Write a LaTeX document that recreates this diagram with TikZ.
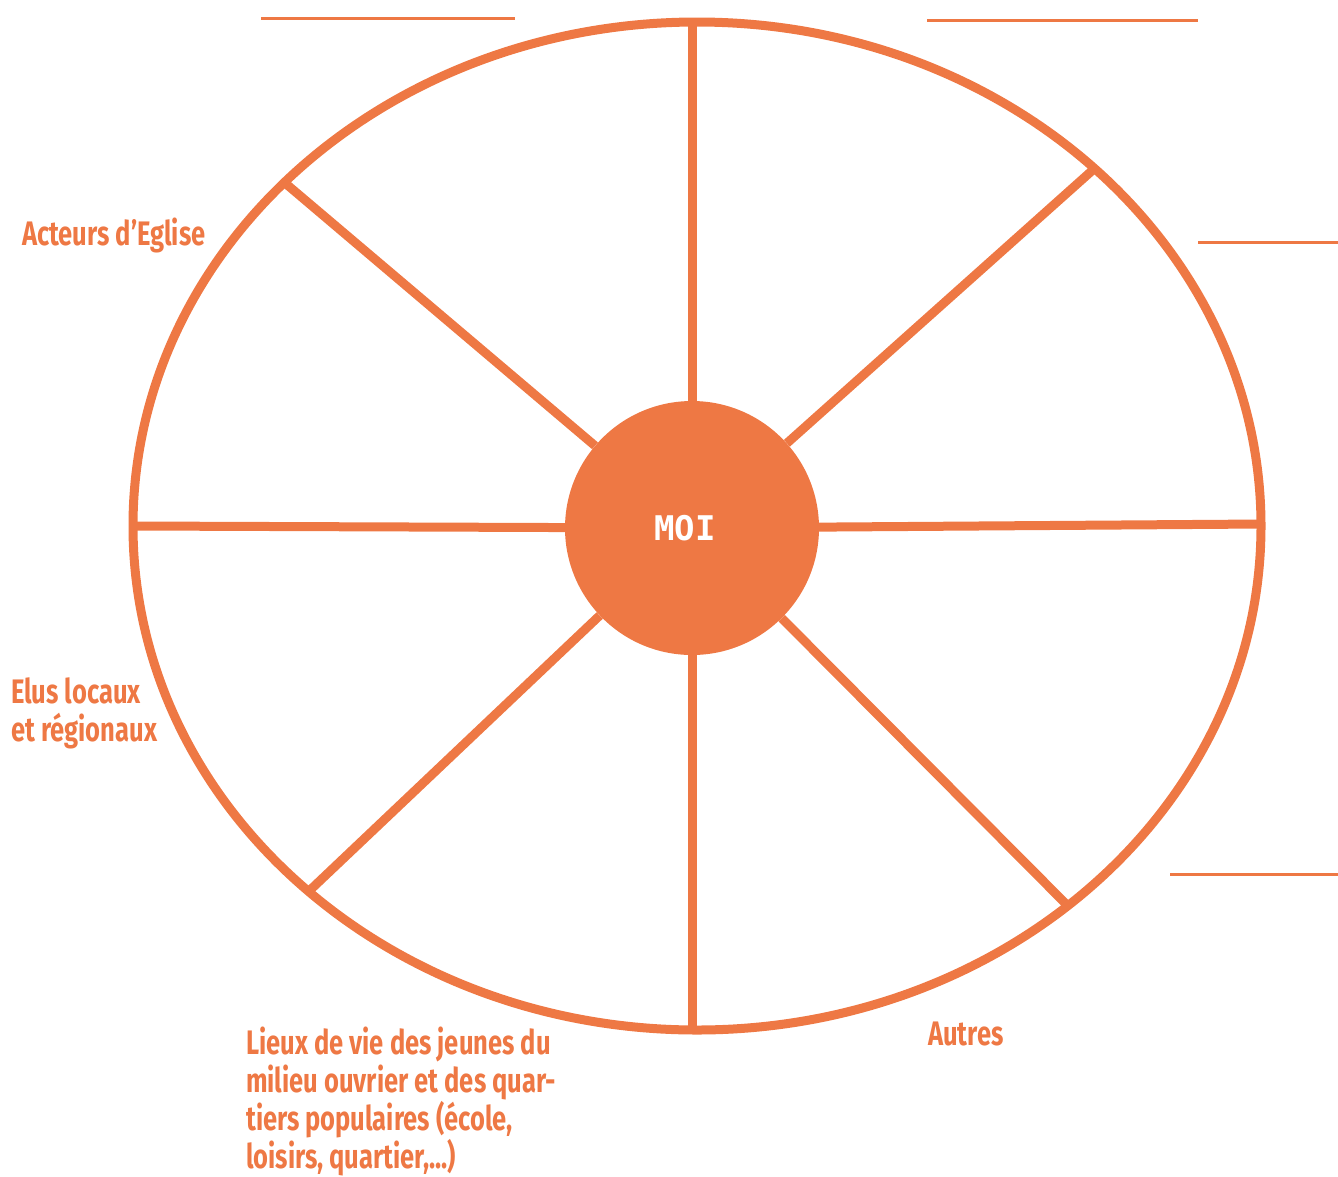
\documentclass[tikz,border=0pt]{standalone}
\usepackage{fontspec}
\setmainfont[FakeStretch=0.75]{Fira Sans}
\setmonofont{DejaVu Sans Mono}
\definecolor{wheelorange}{RGB}{238,120,68}

\begin{document}
\begin{tikzpicture}[x=1pt, y=-1pt]
    \tikzstyle{rim} = [draw=wheelorange, line width=9pt]
    \tikzstyle{spoke} = [draw=wheelorange, line width=9pt]
    \tikzstyle{blank} = [draw=wheelorange, line width=3pt]
    \tikzstyle{self} = [circle, fill=wheelorange, minimum size=254pt, inner sep=0pt, text=white, font=\fontsize{34}{34}\selectfont\ttfamily\bfseries]
    \tikzstyle{sector} = [anchor=base west, align=left, inner sep=0pt, text=wheelorange, font=\fontsize{34}{38}\selectfont\bfseries]

    \useasboundingbox (0,0) rectangle (1338,1176);

    % Wheel
    \draw [rim] (697,526) ellipse [x radius=564pt, y radius=504pt];
    \node [self] (moi) at (692,528) {MOI\hspace*{14pt}};

    % Rim points
    \coordinate (top) at (692,22);
    \coordinate (bottom) at (692,1030);
    \coordinate (left) at (133,526);
    \coordinate (right) at (1262,524);
    \coordinate (upleft) at (285,183);
    \coordinate (upright) at (1095,168);
    \coordinate (lowleft) at (307,893);
    \coordinate (lowright) at (1070,908);

    % Spokes
    \draw [spoke] (top) -- (moi);
    \draw [spoke] (bottom) -- (moi);
    \draw [spoke] (left) -- (moi);
    \draw [spoke] (right) -- (moi);
    \draw [spoke] (upleft) -- (moi);
    \draw [spoke] (upright) -- (moi);
    \draw [spoke] (lowleft) -- (moi);
    \draw [spoke] (lowright) -- (moi);

    % Labels (base = last line)
    \node [sector] (eglise) at (22,245) {Acteurs d’Eglise};
    \node [sector] (elus) at (11,741) {Elus locaux\\et régionaux};
    \node [sector] (lieux) at (246,1168) {Lieux de vie des jeunes du\\milieu ouvrier et des quar-\\tiers populaires (école,\\loisirs, quartier,...)};
    \node [sector] (autres) at (928,1045) {Autres};

    % Blank lines to fill in
    \draw [blank] (261,18) -- (515,18);
    \draw [blank] (927,20) -- (1198,20);
    \draw [blank] (1198,242) -- (1338,242);
    \draw [blank] (1170,874) -- (1338,874);
\end{tikzpicture}
\end{document}
